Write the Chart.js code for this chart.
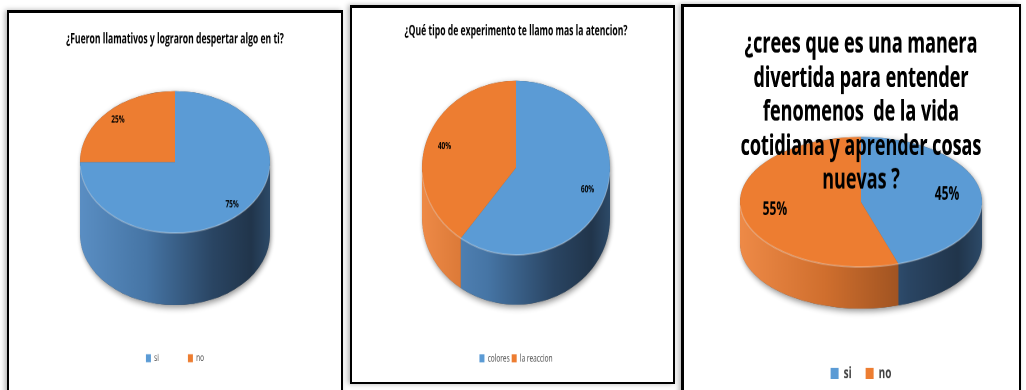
<!DOCTYPE html>
<html>
<head>
<meta charset="utf-8">
<script src="https://cdn.jsdelivr.net/npm/chart.js@4.4.1/dist/chart.umd.min.js"></script>
<style>
  html, body { margin: 0; padding: 0; background: #fff; }
  body { width: 1026px; height: 390px; position: relative; overflow: hidden; }
  .panel {
    position: absolute; box-sizing: border-box; background: #fff; overflow: hidden;
    border: 2px solid #000; border-top-width: 3px;
    box-shadow: -2px 0 5px rgba(0, 0, 0, 0.3);
  }
  /* the source picture is stretched vertically, so each chart is too */
  .wrap { position: relative; transform-origin: 0 0; transform: scaleY(1.6); }
</style>
</head>
<body>
<div class="panel" style="left:7px; top:10px; width:336px; height:400px;">
  <div class="wrap" style="width:332px; height:236px;"><canvas id="chart1"></canvas></div>
</div>
<div class="panel" style="left:350px; top:5px; width:325px; height:379px;">
  <div class="wrap" style="width:321px; height:233.75px;"><canvas id="chart2"></canvas></div>
</div>
<div class="panel" style="left:681px; top:4px; width:340px; height:400px; border-left-width:3px;">
  <div class="wrap" style="width:335px; height:250px;"><canvas id="chart3"></canvas></div>
</div>
<script>
// Data
const title1 = "¿Fueron llamativos y lograron despertar algo en ti?"
const labels1 = ["si", "no"]
const values1 = [75, 25]

const title2 = "¿Qué tipo de experimento te llamo mas la atencion?"
const labels2 = ["colores", "la reaccion"]
const values2 = [60, 40]

const title3 = ["¿crees que es una manera", "divertida para entender", "fenomenos  de la vida", "cotidiana y aprender cosas", "nuevas ?"]
const labels3 = ["si", "no"]
const values3 = [45, 55]

const topColors = ["#5b9bd5", "#ed7d31"]
const sideColors = [
  [[0, "#5a8ec3"], [0.35, "#4675a5"], [0.7, "#2a4563"], [0.9, "#21354b"], [1, "#2d4a68"]],
  [[0, "#ee8a47"], [0.35, "#d06f2e"], [0.7, "#9a5020"], [0.9, "#733a15"], [1, "#8a4a1f"]],
]
const FONT = "'Open Sans', 'DejaVu Sans', sans-serif"

// Tilted pie: side walls under the slices, top face squashed, labels on top
const pie3d = {
  id: "pie3d",
  beforeDatasetsDraw(chart, args, opts) {
    const arcs = chart.getDatasetMeta(0).data
    if (!arcs.length) return
    const ctx = chart.ctx
    const { x, y, outerRadius: r } = arcs[0]
    const ry = r * opts.tilt
    const cy = chart.chartArea.top + opts.gap + ry
    const depth = opts.depth
    chart.$pie3d = { x, y, r, ry, cy }

    // soft shadow under the body
    ctx.save()
    ctx.beginPath()
    ctx.ellipse(x, cy, r, ry, 0, Math.PI, 2 * Math.PI)
    ctx.ellipse(x, cy + depth, r, ry, 0, 0, Math.PI)
    ctx.closePath()
    ctx.shadowColor = "rgba(0, 0, 0, 0.45)"
    ctx.shadowBlur = 8
    ctx.shadowOffsetX = 2
    ctx.shadowOffsetY = 3
    ctx.fillStyle = "#555"
    ctx.fill()
    ctx.restore()

    // front walls of each slice
    arcs.forEach((arc, i) => {
      const s = Math.max(arc.startAngle, 0)
      const e = Math.min(arc.endAngle, Math.PI)
      if (e <= s) return
      const grad = ctx.createLinearGradient(x - r, 0, x + r, 0)
      sideColors[i].forEach(([stop, color]) => grad.addColorStop(stop, color))
      ctx.beginPath()
      ctx.ellipse(x, cy, r, ry, 0, s, e)
      ctx.ellipse(x, cy + depth, r, ry, 0, e, s, true)
      ctx.closePath()
      ctx.fillStyle = grad
      ctx.fill()
    })

    // squash the top face
    ctx.save()
    ctx.translate(0, cy)
    ctx.scale(1, opts.tilt)
    ctx.translate(0, -y)
  },
  afterDatasetsDraw(chart, args, opts) {
    const p = chart.$pie3d
    if (!p) return
    const ctx = chart.ctx
    ctx.restore()

    // light rim on the front edge
    ctx.save()
    ctx.beginPath()
    ctx.ellipse(p.x, p.cy, p.r, p.ry, 0, 0.05, Math.PI - 0.05)
    ctx.strokeStyle = "rgba(255, 255, 255, 0.3)"
    ctx.lineWidth = 1
    ctx.stroke()
    ctx.restore()

    const data = chart.data.datasets[0].data
    const total = data.reduce((a, b) => a + b, 0)
    ctx.save()
    ctx.font = `bold ${opts.labelSize}px ${FONT}`
    ctx.fillStyle = "#000"
    ctx.textAlign = "center"
    ctx.textBaseline = "middle"
    chart.getDatasetMeta(0).data.forEach((arc, i) => {
      const mid = (arc.startAngle + arc.endAngle) / 2
      const lx = p.x + opts.labelRadius * p.r * Math.cos(mid)
      const ly = p.cy + opts.labelRadius * p.ry * Math.sin(mid)
      ctx.fillText(Math.round((data[i] / total) * 100) + "%", lx, ly)
    })
    ctx.restore()

    // the long title of the third chart sits over the pie
    if (opts.titleOnTop && chart.titleBlock) chart.titleBlock.draw()
  },
}

function makeChart(id, title, labels, values, cfg) {
  return new Chart(document.getElementById(id), {
    type: "pie",
    data: {
      labels: labels,
      datasets: [
        {
          data: values,
          backgroundColor: topColors,
          borderWidth: 0,
          radius: cfg.radius,
          clip: false,
        },
      ],
    },
    plugins: [pie3d],
    options: {
      responsive: true,
      maintainAspectRatio: false,
      animation: false,
      devicePixelRatio: 2,
      layout: { padding: cfg.padding },
      plugins: {
        title: {
          display: true,
          text: title,
          color: "#000",
          font: { family: FONT, size: cfg.titleSize, weight: "bold", lineHeight: cfg.titleLine },
          padding: { top: cfg.titleTop, bottom: 0 },
        },
        legend: {
          position: "bottom",
          labels: {
            color: "#404040",
            font: { family: FONT, size: cfg.legendSize, weight: cfg.legendWeight },
            boxWidth: cfg.box[0],
            boxHeight: cfg.box[1],
            padding: cfg.legendGap,
          },
        },
        tooltip: { enabled: false },
        pie3d: {
          tilt: cfg.tilt,
          depth: cfg.depth,
          gap: cfg.gap,
          labelRadius: cfg.labelRadius,
          labelSize: cfg.labelSize,
          titleOnTop: cfg.titleOnTop || false,
        },
      },
    },
  })
}

makeChart("chart1", title1, labels1, values1, {
  radius: 95, tilt: 0.467, depth: 45, gap: 27,
  padding: { bottom: 7 },
  titleSize: 8.6, titleLine: 1.2, titleTop: 11.5,
  legendSize: 6.5, legendWeight: "normal", box: [5, 5], legendGap: 29,
  labelRadius: 0.85, labelSize: 6.5,
})

makeChart("chart2", title2, labels2, values2, {
  radius: 94, tilt: 0.578, depth: 31, gap: 25.5,
  padding: { left: 7, bottom: 2 },
  titleSize: 8.6, titleLine: 1.2, titleTop: 9.5,
  legendSize: 6.5, legendWeight: "normal", box: [5, 5], legendGap: 2,
  labelRadius: 0.8, labelSize: 6.5,
})

makeChart("chart3", title3, labels3, values3, {
  radius: 121, tilt: 0.336, depth: 26, gap: -38,
  padding: { left: 19, bottom: 6 },
  titleSize: 18, titleLine: 1.18, titleTop: 13,
  legendSize: 10, legendWeight: "bold", box: [8, 7], legendGap: 14,
  labelRadius: 0.72, labelSize: 12, titleOnTop: true,
})
</script>
</body>
</html>
